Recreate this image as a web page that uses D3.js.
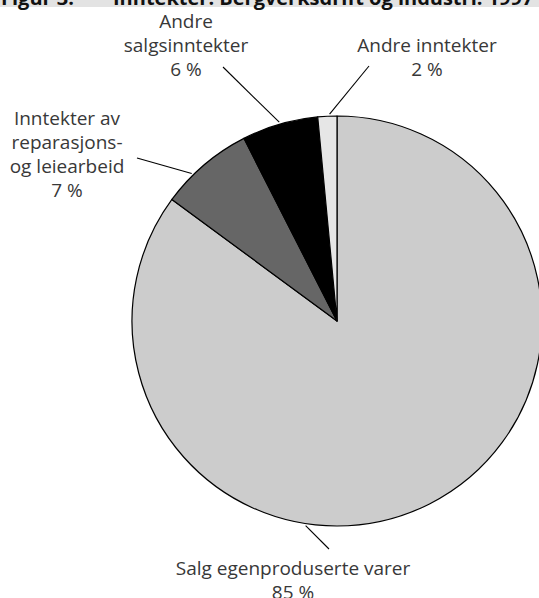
<!DOCTYPE html>
<html>
<head>
<meta charset="utf-8">
<script src="https://cdn.jsdelivr.net/npm/d3@7"></script>
<style>
  body { margin: 0; background: #fff; }
  svg { display: block; }
</style>
</head>
<body>
<div id="chart"></div>
<script>
// data, clockwise from 12 o'clock
const categories = ['Salg egenproduserte varer', 'Inntekter av reparasjons- og leiearbeid', 'Andre salgsinntekter', 'Andre inntekter']
const shares = [85.1, 7.4, 6.0, 1.5]
const pctLabels = ['85 %', '7 %', '6 %', '2 %']
const labelLines = [
    ['Salg egenproduserte varer'],
    ['Inntekter av', 'reparasjons-', 'og leiearbeid'],
    ['Andre', 'salgsinntekter'],
    ['Andre inntekter']
]
const colors = ['#cccccc', '#666666', '#000000', '#e6e6e6']
const title = 'Figur 3.'
const subtitle = 'Inntekter. Bergverksdrift og industri. 1997'

const width = 539, height = 598
const cx = 337, cy = 321, radius = 205
const lineH = 24

// label placement: where the leader leaves the slice (fraction of slice), label anchor, leader outer end
const layout = [
    { frac: 0.616, x: 293, y: 575, ex: 329, ey: 549 },
    { frac: 0.34, x: 67, y: 125, ex: 137, ey: 158 },
    { frac: 0.5, x: 186, y: 28, ex: 223, ey: 67 },
    { frac: 0.62, x: 427, y: 52, ex: 369, ey: 66 }
]

const svg = d3.select('#chart').append('svg')
    .attr('width', width)
    .attr('height', height)

// title band (cropped at top of picture)
svg.append('rect')
    .attr('x', 0).attr('y', 0)
    .attr('width', width).attr('height', 7)
    .attr('fill', '#e3e3e3')

svg.append('text')
    .attr('x', 1).attr('y', 4.5)
    .style('font-family', 'Open Sans')
    .style('font-weight', 'bold')
    .style('font-size', '20px')
    .attr('fill', '#111')
    .text(title)

svg.append('text')
    .attr('x', 113).attr('y', 4.5)
    .style('font-family', 'Open Sans')
    .style('font-weight', 'bold')
    .style('font-size', '20px')
    .attr('fill', '#111')
    .text(subtitle)

const pie = d3.pie().sort(null).value(d => d)
const arcs = pie(shares)
const arc = d3.arc().innerRadius(0).outerRadius(radius)

const g = svg.append('g').attr('transform', `translate(${cx},${cy})`)

g.selectAll('path.slice')
    .data(arcs)
    .enter()
    .append('path')
    .attr('class', 'slice')
    .attr('d', arc)
    .attr('fill', (d, i) => colors[i])
    .attr('stroke', '#000')
    .attr('stroke-width', 1.2)
    .attr('stroke-linejoin', 'round')

// leader lines
const leaderAngle = (d, i) => d.startAngle + (d.endAngle - d.startAngle) * layout[i].frac

g.selectAll('line.leader')
    .data(arcs)
    .enter()
    .append('line')
    .attr('class', 'leader')
    .attr('x1', (d, i) => (radius + 2) * Math.sin(leaderAngle(d, i)))
    .attr('y1', (d, i) => -(radius + 2) * Math.cos(leaderAngle(d, i)))
    .attr('x2', (d, i) => layout[i].ex - cx)
    .attr('y2', (d, i) => layout[i].ey - cy)
    .attr('stroke', '#000')
    .attr('stroke-width', 1.1)

// labels: name lines + percent line
const labels = svg.selectAll('text.label')
    .data(labelLines)
    .enter()
    .append('text')
    .attr('class', 'label')
    .attr('text-anchor', 'middle')
    .style('font-family', 'Open Sans')
    .style('font-size', '19px')
    .attr('fill', '#383838')

labels.selectAll('tspan')
    .data((d, i) => d.concat([pctLabels[i]]).map(t => ({ t: t, i: i })))
    .enter()
    .append('tspan')
    .attr('x', d => layout[d.i].x)
    .attr('y', (d, j) => layout[d.i].y + j * lineH)
    .text(d => d.t)
</script>
</body>
</html>
